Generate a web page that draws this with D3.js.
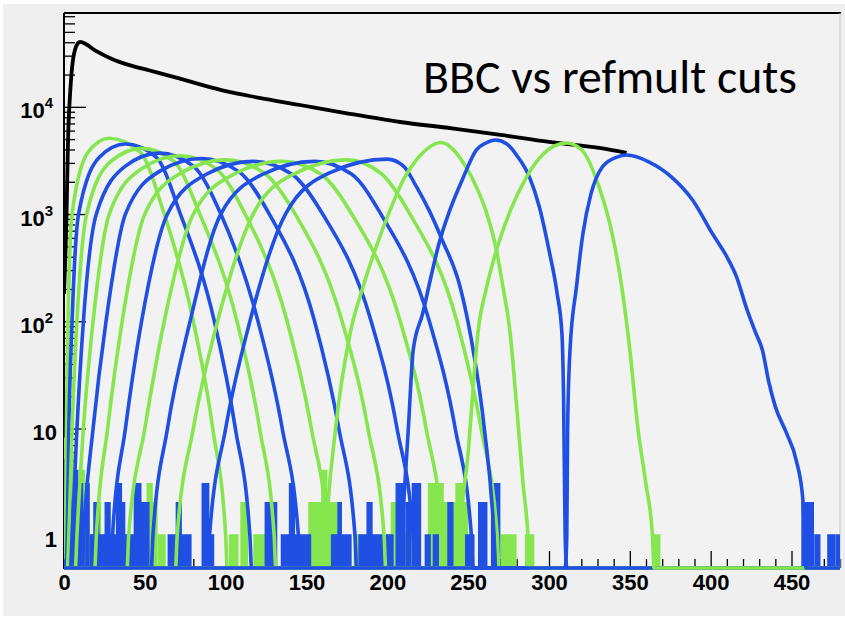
<!DOCTYPE html>
<html><head><meta charset="utf-8">
<script src="https://cdn.jsdelivr.net/npm/d3@7"></script>
<style>html,body{margin:0;padding:0;background:#fff;} svg{display:block}</style>
</head><body>
<svg id="c" width="845" height="620"></svg>
<script>
// ---------- data ----------
const titleText = "BBC vs refmult cuts";
const xMajorTicks = [0, 50, 100, 150, 200, 250, 300, 350, 400, 450];
const xTickLabels = ["0", "50", "100", "150", "200", "250", "300", "350", "400", "450"];
const yMajorTicks = [1, 10, 100, 1000, 10000];
const yTickLabels = [["1", ""], ["10", ""], ["10", "2"], ["10", "3"], ["10", "4"]];

// total (no cut) refmult distribution
const total = [[0,180],[1.5,900],[2.5,4900],[4,15000],[5.5,27000],[6.8,34000],[8.5,39000],[10,40300],[12,39500],[20,33000],[30,27800],[40,24600],[53,21800],[70,18600],[84,16200],[100,14000],[120,12200],[146,10400],[175,8700],[208,7220],[240,6300],[270,5470],[300,4700],[331,4140],[348,3720]];

// refmult distributions for successive BBC cuts (alternating colours)
const g1 = [[0,0.6],[1,1],[1.5,10],[2.5,100],[5,1000],[15,3800],[28,5100],[47,3800],[62,1000],[80,100],[92,10],[100,1],[101,0],[480,0]];
const b1 = [[0,0],[1,0],[2,1],[3,10],[5,100],[9,1000],[22,3400],[38,4500],[57,3400],[72,1000],[93,100],[106,10],[115,1],[116,0],[480,0]];
const g2 = [[0,0],[2,0],[3,1],[5,10],[8,100],[14,1000],[29,3100],[48,4100],[68,3100],[84,1000],[107,100],[121,10],[130,1],[131,0],[480,0]];
const b2 = [[0,0],[4,0],[5,1],[8,10],[12,100],[20,1000],[38,2800],[59,3700],[80,2800],[97,1000],[120,100],[135,10],[145,1],[146,0],[480,0]];
const g3 = [[0,0],[7,0],[8,1],[12,10],[18,100],[28,1000],[48,2650],[72,3500],[94,2650],[112,1000],[138,100],[153,10],[163,1],[164,0],[480,0]];
const b3 = [[0,0],[11,0],[12,1],[18,10],[26,100],[38,1000],[59,2500],[85,3300],[108,2500],[127,1000],[155,100],[170,10],[180,1],[181,0],[480,0]];
const g4 = [[0,0],[19,0],[20,1],[27,10],[36,100],[50,1000],[72,2400],[100,3200],[124,2400],[143,1000],[172,100],[188,10],[198,1],[199,0],[480,0]];
const b4 = [[0,0],[29,0],[30,1],[38,10],[48,100],[64,1000],[88,2350],[117,3100],[141,2350],[160,1000],[190,100],[206,10],[216,1],[217,0],[480,0]];
const g5 = [[0,0],[39,0],[40,1],[50,10],[62,100],[80,1000],[105,2350],[135,3100],[159,2350],[178,1000],[208,100],[224,10],[234,1],[235,0],[480,0]];
const b5 = [[0,0],[54,0],[55,1],[64,10],[78,100],[97,1000],[123,2350],[155,3100],[178,2350],[196,1000],[226,100],[242,10],[252,1],[253,0],[480,0]];
const g6 = [[0,0],[69,0],[70,1],[80,10],[95,100],[117,1000],[143,2400],[175,3200],[196,2400],[214,1000],[243,100],[258,10],[268,1],[269,0],[480,0]];
const b6 = [[0,0],[89,0],[90,1],[100,10],[115,100],[137,1000],[165,2450],[200,3250],[210,2800],[218,1800],[226,1070],[234,570],[245,210],[252,67],[260,10],[266,1],[267,0],[480,0]];
const g7 = [[0,0],[161,0],[162,1],[168,10],[177,77],[185,210],[193,490],[201.5,1070],[210,2100],[218,3200],[225,4100],[233,4650],[240,4100],[245,3330],[255,1800],[261,1070],[267.5,460],[271.5,210],[276,77],[280,16],[284,3],[287,1],[288,0],[480,0]];
const b7 = [[0,0],[208,0],[209,1],[213,10],[216,54],[222,120],[227,260],[232,535],[238.5,1070],[247,2200],[255,3950],[261,4600],[267,4900],[274,4500],[280,3540],[288,2200],[294,1170],[300,460],[305,183],[308,77],[309,20],[310,1],[311,0],[480,0]];
const g8 = [[0,0],[244,0],[245,1],[250,6],[255,54],[256,77],[261,195],[267.5,460],[276,1070],[286,2200],[294,3300],[303,4300],[311,4600],[320,4000],[331,1780],[339,660],[345,210],[350,54],[355,10],[360,3],[364,1],[365,0],[480,0]];
const b8 = [[0,0],[310,0],[311,1],[311.5,10],[313,54],[317,210],[321,660],[326,1550],[333,2750],[342,3400],[348,3550],[362,3050],[376,2200],[389,1340],[401,660],[410,400],[416,260],[422,135],[428,77],[432,54],[436,27],[440,16],[447,9],[453,5],[457,2.2],[458,1],[459,0],[480,0]];

// low-count tail bins [from, to, counts]
const greenTailBins = [[0,1,8],[1,3,2],[4,5,6],[5,6,4],[8,10,1],[11,12,4],[12,13,2],[14,15,3],[16,19,1],[20,22,2],[24,25,1],[49,57,2],[52,54,3],[59,62,1],[103,107,1],[110,113,2],[118,124,1],[152,169,2],[160,162,4],[180,186,1],[197,214,1],[203,205,2],[213,218,2],[226,234,3],[228,249,2],[236,240,1],[243,246,3],[271,279,1],[286,290,1],[366,368,1]];
const blueTailBins = [[0,1,5],[2,4,3],[3,4,6],[6,7,2],[7,8,4],[9,12,1],[10,11,3],[14,15,3],[17,18,1],[19,21,2],[22,43,1],[26,28,2],[33,35,3],[36,37,2],[44,47,3],[48,52,2],[65,78,1],[70,72,2],[86,89,3],[91,92,1],[125,131,2],[135,152,1],[140,142,3],[166,177,1],[170,171,2],[183,197,1],[188,190,2],[200,203,1],[206,210,3],[212,214,2],[216,220,3],[224,226,1],[229,231,1],[238,240,2],[249,253,1],[257,261,2],[265,269,3],[457,463,2],[465,467,1],[473,476,1],[478,480,1]];

const cutSeries = [g1, b1, g2, b2, g3, b3, g4, b4, g5, b5, g6, b6, g7, b7, g8, b8];
const seriesColors = ["#86e64f", "#1f4fe3"];

// ---------- drawing ----------
const W = 845, H = 620;
const L = 64, R = 840, T = 13, B = 568;
const svg = d3.select("#c");

svg.append("rect").attr("x", 0).attr("y", 0).attr("width", W).attr("height", H).attr("fill", "#ffffff");
svg.append("rect").attr("x", 3).attr("y", 4).attr("width", W - 3).attr("height", 612).attr("fill", "#efefef");
svg.append("rect").attr("x", L).attr("y", T).attr("width", R - L).attr("height", B - T).attr("fill", "#f2f2f2");

const x = d3.scaleLinear().domain([0, 480]).range([L, R]);
const y = d3.scaleLog().domain([0.5, 75000]).range([B, T]);
const yv = v => (v > 0.5 ? y(v) : B);

const fontAxis = "'Liberation Sans', Arial, Helvetica, sans-serif";

// x axis: minor + major inward ticks
const xMinor = d3.range(0, 481, 10).filter(v => v % 50 !== 0);
const gxm = svg.append("g").attr("transform", `translate(0,${B})`)
  .call(d3.axisBottom(x).tickValues(xMinor).tickSize(-9).tickFormat(""));
gxm.select(".domain").remove();
const gx = svg.append("g").attr("transform", `translate(0,${B})`)
  .call(d3.axisBottom(x).tickValues(xMajorTicks).tickSize(-17).tickPadding(6)
    .tickFormat((d, i) => xTickLabels[i]));
gx.select(".domain").remove();
gx.selectAll("text").attr("font-family", fontAxis).attr("font-weight", "bold")
  .attr("font-size", 22).attr("fill", "#000");
svg.selectAll(".tick line").attr("stroke", "#000").attr("stroke-width", 1.3);

// y axis (log)
const yMinor = [];
[0.1, 1, 10, 100, 1000, 10000].forEach(dec => {
  for (let k = 2; k <= 9; k++) { const v = dec * k; if (v >= 0.5 && v <= 75000) yMinor.push(v); }
});
const gym = svg.append("g").attr("transform", `translate(${L},0)`)
  .call(d3.axisLeft(y).tickValues(yMinor).tickSize(-11).tickFormat(""));
gym.select(".domain").remove();
const gy = svg.append("g").attr("transform", `translate(${L},0)`)
  .call(d3.axisLeft(y).tickValues(yMajorTicks).tickSize(-22).tickPadding(7).tickFormat(""));
gy.select(".domain").remove();
gy.selectAll(".tick line").attr("stroke", "#000").attr("stroke-width", 1.3);
gym.selectAll(".tick line").attr("stroke", "#000").attr("stroke-width", 1.3);
gy.selectAll(".tick").each(function (d, i) {
  const lab = yTickLabels[i];
  const t = d3.select(this).append("text")
    .attr("x", lab[1] ? -11 : -7).attr("y", 0).attr("dy", "0.5em")
    .attr("text-anchor", "end").attr("font-family", fontAxis)
    .attr("font-weight", "bold").attr("font-size", 22).attr("fill", "#000");
  t.append("tspan").text(lab[0]);
  if (lab[1]) t.append("tspan").attr("dy", -10).attr("font-size", 15).text(lab[1]);
});

// frame
svg.append("line").attr("x1", L).attr("x2", R + 1).attr("y1", T).attr("y2", T).attr("stroke", "#000").attr("stroke-width", 2);
svg.append("line").attr("x1", L).attr("x2", L).attr("y1", T).attr("y2", B + 1).attr("stroke", "#000").attr("stroke-width", 2);
svg.append("line").attr("x1", R).attr("x2", R).attr("y1", T).attr("y2", B).attr("stroke", "#c8c8c8").attr("stroke-width", 1);
svg.append("line").attr("x1", L).attr("x2", R).attr("y1", B).attr("y2", B).attr("stroke", "#000").attr("stroke-width", 2);

// curves
const clipId = "plotclip";
svg.append("clipPath").attr("id", clipId).append("rect")
  .attr("x", L).attr("y", T).attr("width", R - L).attr("height", B - T + 3);
const gp = svg.append("g").attr("clip-path", `url(#${clipId})`);
const line = d3.line().x(d => x(d[0])).y(d => yv(d[1])).curve(d3.curveMonotoneX);

gp.append("path").datum(total).attr("d", line).attr("fill", "none")
  .attr("stroke", "#000").attr("stroke-width", 3.8).attr("stroke-linejoin", "round");

// tail blocks (drawn as histogram bars)
const barPath = d => `M${x(d[0])},${B}V${yv(d[2])}H${x(d[1])}V${B}`;
gp.selectAll("path.gt").data(greenTailBins).join("path").attr("class", "gt")
  .attr("d", barPath).attr("fill", seriesColors[0]).attr("stroke", seriesColors[0]).attr("stroke-width", 3);
gp.selectAll("path.bt").data(blueTailBins).join("path").attr("class", "bt")
  .attr("d", barPath).attr("fill", seriesColors[1]).attr("stroke", seriesColors[1]).attr("stroke-width", 3);

cutSeries.forEach((s, i) => {
  gp.append("path").datum(s).attr("d", line).attr("fill", "none")
    .attr("stroke", seriesColors[i % 2]).attr("stroke-width", 3.6).attr("stroke-linejoin", "round");
});

// title
const title = svg.append("text").attr("x", 423).attr("y", 93)
  .attr("font-family", "Carlito, Calibri, Lato, 'Open Sans', sans-serif")
  .attr("font-size", 38).attr("fill", "#000").text(titleText);
const tw = title.node().getComputedTextLength();
title.attr("font-size", 38 * 374 / tw);
</script>
</body></html>
